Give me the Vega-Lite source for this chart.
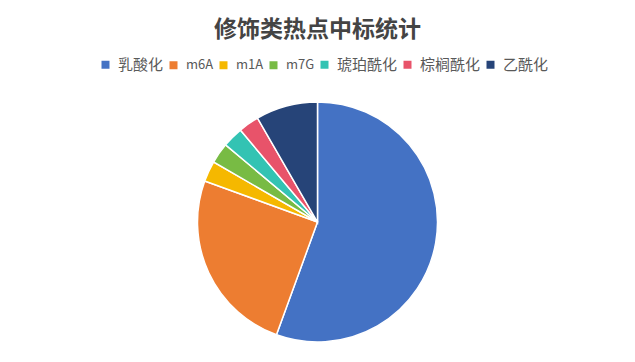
{
  "$schema": "https://vega.github.io/schema/vega-lite/v6.json",
  "width": 635,
  "height": 264,
  "autosize": {"type": "none"},
  "padding": {"top": 90, "left": 0, "right": 0, "bottom": 8},
  "background": "white",
  "title": {
    "text": "修饰类热点中标统计",
    "font": "Noto Sans CJK SC",
    "fontSize": 23,
    "fontWeight": "bold",
    "color": "#444444",
    "anchor": "middle",
    "offset": 15
  },
  "data": {
    "values": [
      {"类别": "乳酸化", "数量": 20, "序": 1},
      {"类别": "m6A", "数量": 9, "序": 2},
      {"类别": "m1A", "数量": 1, "序": 3},
      {"类别": "m7G", "数量": 1, "序": 4},
      {"类别": "琥珀酰化", "数量": 1, "序": 5},
      {"类别": "棕榈酰化", "数量": 1, "序": 6},
      {"类别": "乙酰化", "数量": 3, "序": 7}
    ]
  },
  "mark": {"type": "arc", "outerRadius": 120, "stroke": "white", "strokeWidth": 1.5},
  "encoding": {
    "theta": {"field": "数量", "type": "quantitative", "stack": true},
    "order": {"field": "序", "type": "quantitative"},
    "color": {
      "field": "类别",
      "type": "nominal",
      "scale": {
        "domain": ["乳酸化", "m6A", "m1A", "m7G", "琥珀酰化", "棕榈酰化", "乙酰化"],
        "range": ["#4472C4", "#ED7D31", "#F5B800", "#78BB44", "#33C3B3", "#E8536A", "#264478"]
      },
      "legend": {
        "title": null,
        "orient": "none",
        "legendX": 98,
        "legendY": -33,
        "padding": 0,
        "direction": "horizontal",
        "symbolType": "square",
        "symbolSize": 64,
        "symbolStrokeWidth": 0,
        "labelFont": "Noto Sans CJK SC",
        "labelFontSize": {"expr": "test(/^m/, datum.label) ? 13 : 15"},
        "labelColor": "#595959",
        "columnPadding": 2,
        "symbolOffset": 0,
        "labelOffset": 5
      }
    }
  },
  "config": {"view": {"stroke": null}}
}
